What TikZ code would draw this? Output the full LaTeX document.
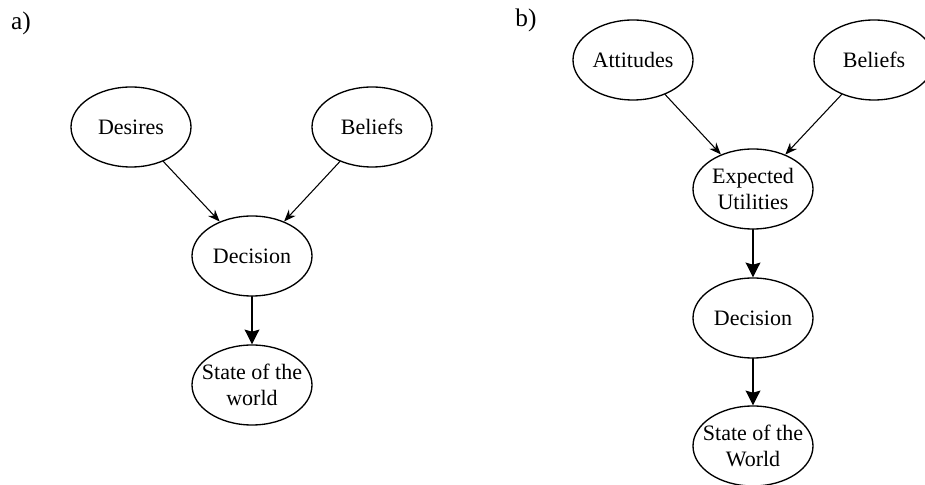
\documentclass[tikz,border=0pt]{standalone}
\usepackage{fontspec}
\setmainfont{Liberation Serif}
\usetikzlibrary{arrows.meta,shapes.geometric}
\begin{document}
\begin{tikzpicture}[x=0.75pt,y=0.75pt,line join=round,line cap=round,
  blob/.style={draw,ellipse,line width=1pt,minimum width=90pt,minimum height=60pt,
    inner xsep=-8pt,inner ysep=-4pt,align=center,font=\fontsize{16.5}{19}\selectfont},
  panel/.style={font=\fontsize{19}{22}\selectfont},
  thinarr/.style={-{Stealth[length=9pt,width=7pt]},line width=0.8pt},
  thickarr/.style={-{Stealth[length=11pt,width=11pt,inset=1.5pt]},line width=1.4pt}]
\useasboundingbox (0,0) rectangle (925,485);
% a)
\node[panel] (labA) at (21,462) {a)};
\node[blob] (desA) at (131,358) {Desires};
\node[blob] (belA) at (372,358) {Beliefs};
\node[blob] (decA) at (252,229) {Decision};
\node[blob] (staA) at (252,100) {State of the\\world};
\draw[thinarr] (desA)--(decA);
\draw[thinarr] (belA)--(decA);
\draw[thickarr] (decA)--(staA);
% b)
\node[panel] (labB) at (526,465) {b)};
\node[blob] (attB) at (633,425) {Attitudes};
\node[blob] (belB) at (874,425) {Beliefs};
\node[blob] (expB) at (753,296) {Expected\\Utilities};
\node[blob] (decB) at (753,167) {Decision};
\node[blob] (staB) at (753,39) {State of the\\World};
\draw[thinarr] (attB)--(expB);
\draw[thinarr] (belB)--(expB);
\draw[thickarr] (expB)--(decB);
\draw[thickarr] (decB)--(staB);
\end{tikzpicture}
\end{document}
